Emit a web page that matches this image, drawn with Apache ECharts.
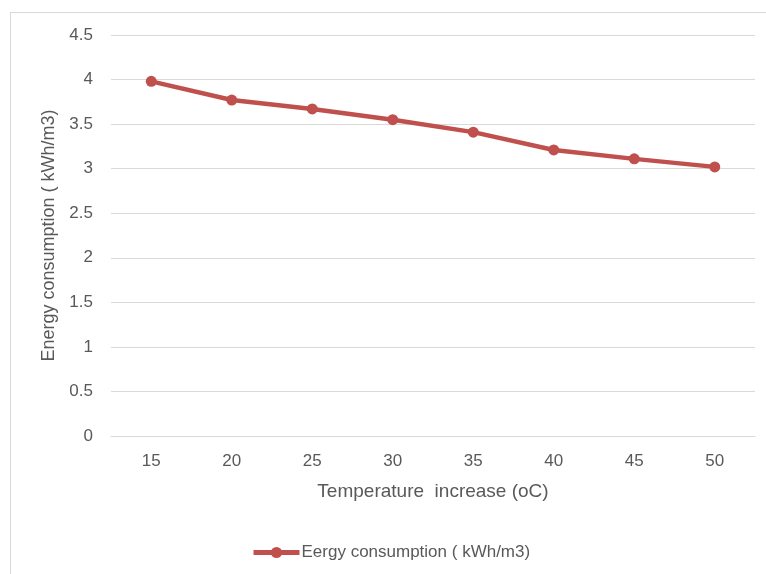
<!DOCTYPE html>
<html>
<head>
<meta charset="utf-8">
<script src="https://cdn.jsdelivr.net/npm/echarts@6/dist/echarts.min.js"></script>
<style>
  html, body { margin: 0; padding: 0; background: #fff; }
  #chart { width: 766px; height: 574px; }
</style>
</head>
<body>
<div id="chart"></div>
<script>
// Temperature rise (°C) on the category axis
var temperatures = ['15', '20', '25', '30', '35', '40', '45', '50'];
// Energy consumption in kWh/m3 for each temperature rise
var energyValues = [3.98, 3.77, 3.67, 3.55, 3.41, 3.21, 3.11, 3.02];
var seriesName = 'Eergy consumption ( kWh/m3)';
var xTitle = 'Temperature  increase (oC)';
var yTitle = 'Energy consumption ( kWh/m3)';

var textColor = '#595959';
var gridColor = '#d9d9d9';
var lineColor = '#C0504D';
var fontFamily = '"Liberation Sans", Arial, sans-serif';

var chart = echarts.init(document.getElementById('chart'), null, { renderer: 'canvas' });

chart.setOption({
  backgroundColor: '#ffffff',
  animation: false,
  textStyle: { fontFamily: fontFamily, color: textColor },
  graphic: [
    // frame edges along the top and left of the chart area
    { type: 'line', shape: { x1: 10, y1: 12.5, x2: 766, y2: 12.5 },
      style: { stroke: gridColor, lineWidth: 1 } },
    { type: 'line', shape: { x1: 10.5, y1: 12, x2: 10.5, y2: 574 },
      style: { stroke: gridColor, lineWidth: 1 } }
  ],
  grid: { left: 111, right: 11, top: 35, bottom: 138, containLabel: false },
  legend: {
    data: [seriesName],
    left: 246,
    top: 539,
    itemWidth: 46,
    itemHeight: 14,
    itemGap: 4,
    lineStyle: { width: 5 },
    textStyle: { fontFamily: fontFamily, color: textColor, fontSize: 17, padding: [0, 0, 0, -3] }
  },
  xAxis: {
    type: 'category',
    data: temperatures,
    boundaryGap: true,
    name: xTitle,
    nameLocation: 'middle',
    nameGap: 46,
    nameTextStyle: { fontFamily: fontFamily, color: textColor, fontSize: 19 },
    axisLine: { show: true, lineStyle: { color: gridColor, width: 1 } },
    axisTick: { show: false },
    axisLabel: { color: textColor, fontSize: 17, margin: 17, fontFamily: fontFamily },
    splitLine: { show: false }
  },
  yAxis: {
    type: 'value',
    min: 0,
    max: 4.5,
    interval: 0.5,
    name: yTitle,
    nameLocation: 'middle',
    nameRotate: 90,
    nameGap: 52,
    nameTextStyle: { fontFamily: fontFamily, color: textColor, fontSize: 18 },
    axisLine: { show: false },
    axisTick: { show: false },
    axisLabel: { color: textColor, fontSize: 17, margin: 18, fontFamily: fontFamily },
    splitLine: { show: true, lineStyle: { color: gridColor, width: 1 } }
  },
  series: [{
    name: seriesName,
    type: 'line',
    data: energyValues,
    symbol: 'circle',
    symbolSize: 11,
    lineStyle: { color: lineColor, width: 4.5 },
    itemStyle: { color: lineColor },
    emphasis: { disabled: true }
  }]
});
</script>
</body>
</html>
